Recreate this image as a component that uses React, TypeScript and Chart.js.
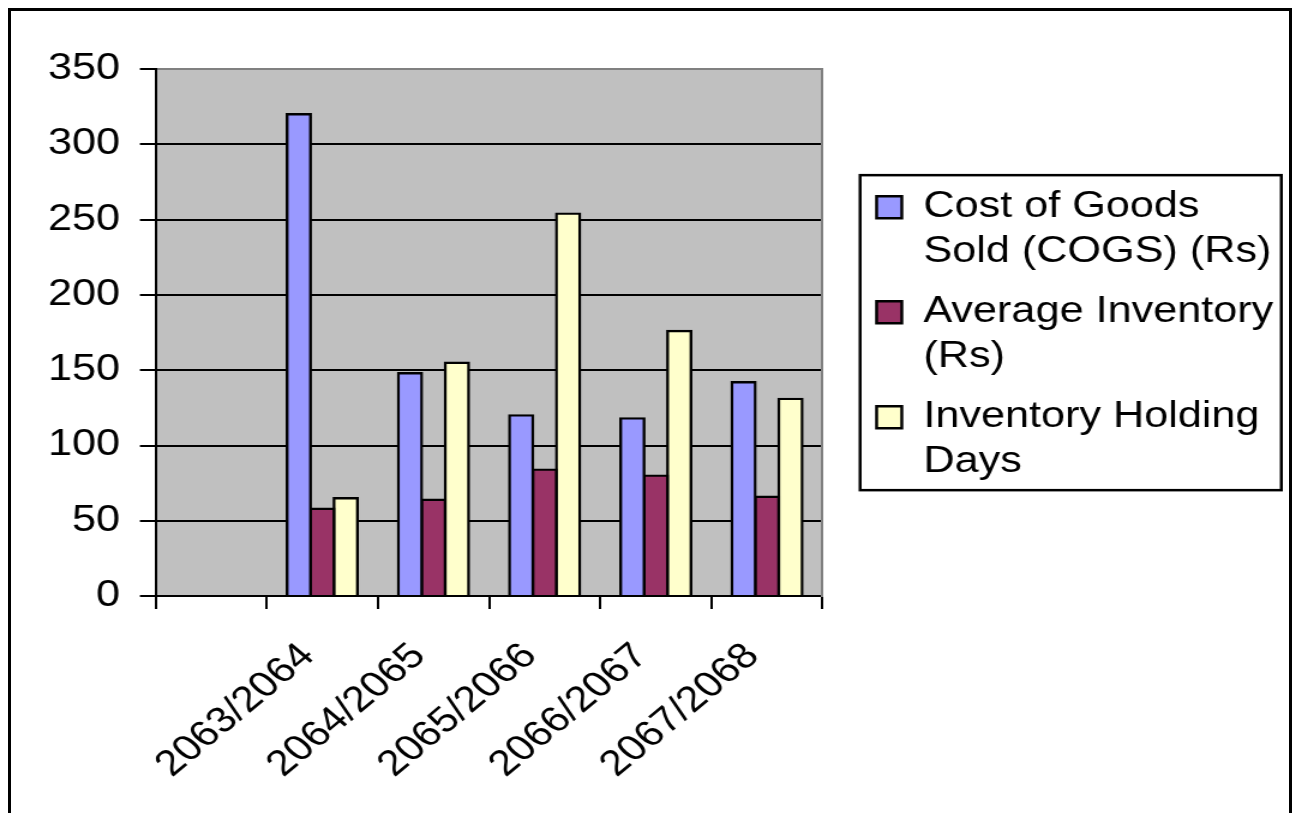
import React, { useEffect, useRef } from 'react';
import { Chart, registerables } from 'chart.js';

Chart.register(...registerables);

// Fiscal periods (the first slot is an empty category, as in the original sheet)
const periods = ['', '2063/2064', '2064/2065', '2065/2066', '2066/2067', '2067/2068'];

const cogs = [null, 320, 148, 120, 118, 142];
const averageInventory = [null, 58, 64, 84, 80, 66];
const holdingDays = [null, 65, 155, 254, 176, 131];

// Legend text, one entry per line
const seriesNames = [
  ['Cost of Goods', 'Sold (COGS) (Rs)'],
  ['Average Inventory', '(Rs)'],
  ['Inventory Holding', 'Days'],
];
const seriesValues = [cogs, averageInventory, holdingDays];
const seriesColors = ['#9999FF', '#993366', '#FFFFCC'];

const yMin = 0;
const yMax = 350;
const yStep = 50;

const FONT = 'Liberation Sans, Arial, Helvetica, sans-serif';

// The chart is laid out on a narrower canvas and widened horizontally,
// giving the broad lettering of the original sheet.
const CANVAS_W = 1080;
const CANVAS_H = 813;
const STRETCH_X = 1.2;

const plotBackground = {
  id: 'plotBackground',
  beforeDraw(chart: any) {
    const { ctx, chartArea: a } = chart;
    ctx.save();
    ctx.fillStyle = '#C0C0C0';
    ctx.fillRect(a.left, a.top, a.right - a.left, a.bottom - a.top);
    ctx.restore();
  },
};

const legendFrame = {
  id: 'legendFrame',
  afterDraw(chart: any) {
    const lg = chart.legend;
    const boxes = lg && lg.legendHitBoxes;
    if (!boxes || !boxes.length) return;
    const first = boxes[0];
    const last = boxes[boxes.length - 1];
    const top = first.top - 14;
    const bottom = last.top + last.height + 1;
    const { ctx } = chart;
    ctx.save();
    ctx.strokeStyle = '#000';
    ctx.lineWidth = 2.5;
    ctx.strokeRect(lg.left + 1.25, top, lg.right - lg.left - 4.5, bottom - top);
    ctx.restore();
  },
};

function InventoryChart() {
  const canvasRef = useRef<HTMLCanvasElement | null>(null);

  useEffect(() => {
    const canvas = canvasRef.current;
    if (!canvas) return;

    const tickFont = { family: FONT, size: 36 };

    const chart = new Chart(canvas, {
      type: 'bar',
      data: {
        labels: periods,
        datasets: seriesValues.map((values, i) => ({
          label: seriesNames[i].join(' '),
          data: values,
          backgroundColor: seriesColors[i],
          borderColor: '#000',
          borderWidth: 2.4,
          inflateAmount: 1.2,
          borderSkipped: 'start',
          barPercentage: 1,
          categoryPercentage: 0.633,
        })),
      },
      options: {
        responsive: false,
        animation: false,
        events: [],
        layout: { padding: { left: 23.5, right: 9, top: 69, bottom: 1 } },
        scales: {
          x: {
            offset: true,
            grid: {
              offset: true,
              drawOnChartArea: false,
              drawTicks: true,
              tickLength: 13,
              color: '#000',
              tickColor: '#000',
              lineWidth: 2,
            },
            border: { display: true, color: '#000', width: 2 },
            ticks: {
              color: '#000',
              font: tickFont,
              minRotation: 45,
              maxRotation: 45,
              autoSkip: false,
              padding: 26,
              labelOffset: -12,
            },
          },
          y: {
            min: yMin,
            max: yMax,
            grid: {
              color: (c: any) => (c.tick && c.tick.value === yMax ? '#808080' : '#000'),
              tickColor: '#000',
              lineWidth: 2,
              drawTicks: true,
              tickLength: 13,
            },
            border: { display: true, color: '#000', width: 2 },
            ticks: {
              stepSize: yStep,
              color: '#000',
              font: tickFont,
              padding: 16.5,
            },
          },
          // Frame on the right edge of the plot and the gap before the legend
          yRight: {
            axis: 'y',
            type: 'linear',
            position: 'right',
            min: 0,
            max: 1,
            display: true,
            grid: { display: false, drawTicks: false },
            ticks: { display: false },
            border: { display: true, color: '#808080', width: 2 },
            afterFit: (scale: any) => {
              scale.width = 30;
            },
          },
        },
        plugins: {
          tooltip: { enabled: false },
          legend: {
            position: 'right',
            align: 'center',
            fullSize: false,
            maxWidth: 500,
            title: { display: true, text: '', padding: 0, font: { size: 11, lineHeight: 1.2 } },
            labels: {
              color: '#000',
              font: { family: FONT, size: 36, lineHeight: 1.25 },
              boxWidth: 21,
              boxHeight: 22,
              padding: 15,
              generateLabels: (ch: any) =>
                Chart.defaults.plugins.legend.labels
                  .generateLabels(ch)
                  .map((item: any, i: number) => ({
                    ...item,
                    text: seriesNames[i],
                    lineWidth: 2.5,
                    strokeStyle: '#000',
                  })),
            },
          },
        },
      } as any,
      plugins: [plotBackground, legendFrame],
    });

    return () => chart.destroy();
  }, []);

  return (
    <div
      style={{
        position: 'fixed',
        left: 0,
        top: 0,
        width: CANVAS_W,
        height: CANVAS_H,
        transform: `scaleX(${STRETCH_X})`,
        transformOrigin: '0 0',
      }}
    >
      <canvas ref={canvasRef} width={CANVAS_W} height={CANVAS_H} />
    </div>
  );
}

export default function App() {
  return (
    <div>
      <div
        style={{
          position: 'fixed',
          left: 8,
          top: 8,
          width: 1284,
          height: 830,
          border: '3px solid #000',
          boxSizing: 'border-box',
          background: '#fff',
        }}
      />
      <InventoryChart />
    </div>
  );
}
